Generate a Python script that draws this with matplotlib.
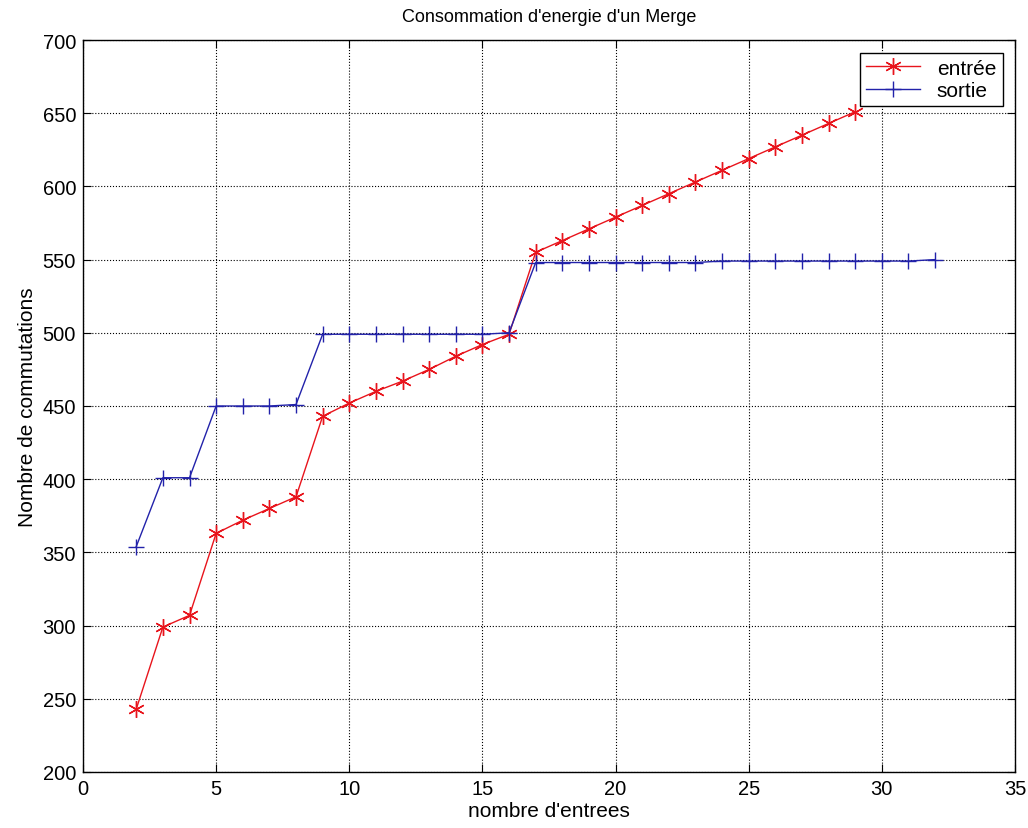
import numpy as np
import matplotlib.pyplot as plt

plt.rcParams['font.family'] = ['Liberation Sans', 'DejaVu Sans']

# entrée
x_in = list(range(2, 30))
y_in = [243, 299, 307, 363, 372, 380, 388, 443, 452, 460, 467, 475, 484, 492, 499,
        555, 563, 571, 579, 587, 595, 603, 611, 619, 627, 635, 643, 651]

# sortie
x_out = list(range(2, 33))
y_out = [354, 401, 401, 450, 450, 450, 451, 499, 499, 499, 499, 499, 499, 499, 500,
         548, 548, 548, 548, 548, 548, 548, 549, 549, 549, 549, 549, 549, 549, 549, 550]

fig = plt.figure(figsize=(10.28, 8.29), dpi=100)
ax = fig.add_axes([83/1028, 1 - 773/829, 932/1028, 732/829])

ax.plot(x_in, y_in, color='#e8141c', lw=1, marker=(6, 2, 0), ms=12, mew=1,
        label='entrée')
ax.plot(x_out, y_out, color='#2222aa', lw=1, marker='+', ms=12, mew=1,
        label='sortie')

ax.set_xlim(0, 35)
ax.set_ylim(200, 700)
ax.set_xticks(np.arange(0, 36, 5))
ax.set_yticks(np.arange(200, 701, 50))
ax.tick_params(direction='in', top=True, right=True, labelsize=14.5, length=6, pad=5)
ax.grid(True, linestyle=':', color='black', linewidth=0.8)
for s in ax.spines.values():
    s.set_linewidth(1)

ax.set_title("Consommation d'energie d'un Merge", fontsize=13, pad=14)
ax.set_xlabel("nombre d'entrees", fontsize=15, labelpad=2)
ax.set_ylabel("Nombre de commutations", fontsize=15, labelpad=4)

leg = ax.legend(loc='upper right', fontsize=15, fancybox=False, framealpha=1,
                edgecolor='black', borderaxespad=0.6, handlelength=2.6,
                borderpad=0.3, labelspacing=0.15, handletextpad=0.8)
leg.get_frame().set_linewidth(1)

fig.savefig('out.png', dpi=100)
